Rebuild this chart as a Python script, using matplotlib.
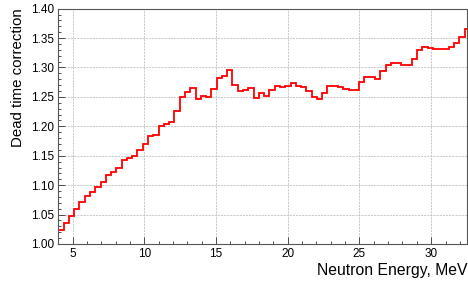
import numpy as np
import matplotlib
matplotlib.use("Agg")
import matplotlib.pyplot as plt
from matplotlib.ticker import MultipleLocator, FormatStrFormatter

# ---- data ----
bin_start = 4.0          # MeV, lower edge of first bin
bin_width = 0.368        # MeV
correction = [
    1.024, 1.035, 1.047, 1.059, 1.071, 1.081, 1.089, 1.097, 1.106, 1.118,
    1.122, 1.129, 1.142, 1.146, 1.150, 1.160, 1.170, 1.184, 1.186, 1.201,
    1.204, 1.207, 1.226, 1.249, 1.259, 1.265, 1.246, 1.252, 1.249, 1.263,
    1.282, 1.285, 1.296, 1.270, 1.260, 1.261, 1.265, 1.248, 1.257, 1.252,
    1.262, 1.269, 1.267, 1.268, 1.274, 1.268, 1.266, 1.260, 1.250, 1.247,
    1.257, 1.269, 1.269, 1.267, 1.264, 1.261, 1.262, 1.276, 1.283, 1.283,
    1.281, 1.294, 1.304, 1.308, 1.307, 1.305, 1.305, 1.315, 1.329, 1.334,
    1.333, 1.332, 1.331, 1.332, 1.334, 1.342, 1.352, 1.366,
]
x_range = (4.0, 32.5)
y_range = (1.00, 1.40)
x_label = "Neutron Energy, MeV"
y_label = "Dead time correction"

edges = bin_start + bin_width * np.arange(len(correction) + 1)

plt.rcParams['font.family'] = ['Liberation Sans', 'DejaVu Sans']

fig = plt.figure(figsize=(4.68, 2.86), dpi=100)
ax = fig.add_axes([0.1246, 0.1469, 0.8733, 0.8228])

ax.stairs(correction, edges, baseline=None, color='#ff0000', linewidth=1.3)

ax.set_xlim(*x_range)
ax.set_ylim(*y_range)

ax.xaxis.set_major_locator(MultipleLocator(5))
ax.xaxis.set_minor_locator(MultipleLocator(1))
ax.yaxis.set_major_locator(MultipleLocator(0.05))
ax.yaxis.set_minor_locator(MultipleLocator(0.01))
ax.yaxis.set_major_formatter(FormatStrFormatter('%.2f'))

ax.tick_params(which='both', direction='in', top=False, right=False,
               labelsize=8.5, colors='#333333', labelcolor='black')
ax.tick_params(which='major', length=5, width=0.6, pad=3)
ax.tick_params(which='minor', length=2.5, width=0.6)

ax.grid(True, which='major', color='#b4b4b4', linestyle=(0, (3, 1.5)), linewidth=0.5)
ax.set_axisbelow(True)

for s in ax.spines.values():
    s.set_color('#555555')
    s.set_linewidth(0.8)

ax.set_xlabel(x_label, fontsize=11.3, loc='right', labelpad=2)
ax.set_ylabel(y_label, fontsize=10.8, loc='top', labelpad=4)

fig.savefig("out.png", dpi=100)
